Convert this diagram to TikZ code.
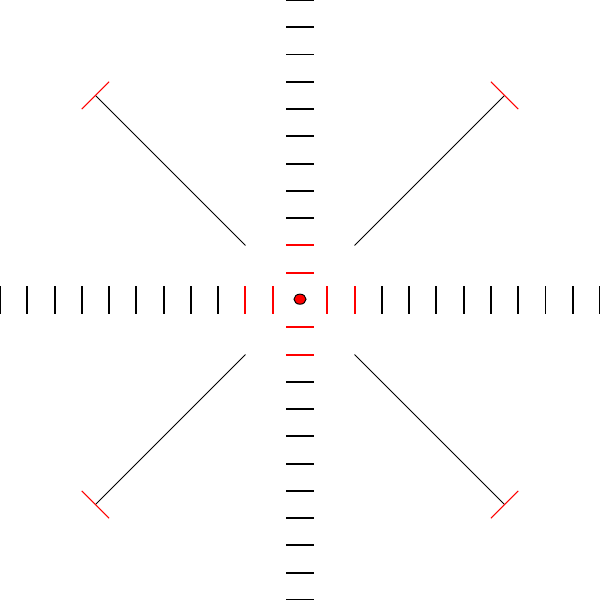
\documentclass[tikz,border=0pt]{standalone}
\usetikzlibrary{shapes.geometric,calc}
\begin{document}
\begin{tikzpicture}[x=1cm,y=1cm,
  tickblack/.style={draw=black,line width=2pt},
  tickred/.style={draw=red,line width=2pt},
  diag/.style={draw=black,line width=1pt},
  capred/.style={draw=red,line width=1pt}]
\useasboundingbox (-11,-11) rectangle (11,11);
\clip (-11,-11) rectangle (11,11);
% ticks
\foreach \k in {1,2}{
  \draw[tickred] (\k,-0.5) -- (\k,0.5);
  \draw[tickred] (-\k,-0.5) -- (-\k,0.5);
  \draw[tickred] (-0.5,\k) -- (0.5,\k);
  \draw[tickred] (-0.5,-\k) -- (0.5,-\k);
}
\foreach \k in {3,...,11}{
  \draw[tickblack] (\k,-0.5) -- (\k,0.5);
  \draw[tickblack] (-\k,-0.5) -- (-\k,0.5);
  \draw[tickblack] (-0.5,\k) -- (0.5,\k);
  \draw[tickblack] (-0.5,-\k) -- (0.5,-\k);
}
% diagonals with red caps
\foreach \sx/\sy in {1/1,-1/1,1/-1,-1/-1}{
  \coordinate (in) at (2*\sx,2*\sy);
  \coordinate (out) at (7.5*\sx,7.5*\sy);
  \draw[diag] (in) -- (out);
  \draw[capred] ($(out)+(-0.5*\sx,0.5*\sy)$) -- ($(out)+(0.5*\sx,-0.5*\sy)$);
}
\node[ellipse,draw=black,fill=red,line width=1pt,minimum width=0.44cm,minimum height=0.37cm,inner sep=0pt] (c) at (0,0.03) {};
\end{tikzpicture}
\end{document}
